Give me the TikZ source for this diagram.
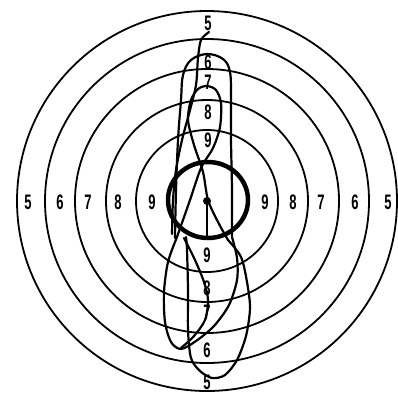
\documentclass[tikz,border=0pt]{standalone}
\usepackage{fontspec}
\setmainfont{Liberation Sans}
\usepackage{graphicx}

\begin{document}
\begin{tikzpicture}[x=1pt,y=-1pt,
  ring/.style={line width=1.8pt},
  trace/.style={line width=2.2pt,line join=round,line cap=round},
  num/.style={inner sep=0pt,font=\fontsize{21}{21}\bfseries}]
\useasboundingbox (0,0) rectangle (398,397);
\coordinate (c) at (207,201);
% rings
\foreach \r in {71,101,132,162,190} {
   \draw[ring] (c) circle (\r);
}
\draw[line width=4.5pt] (208,200) circle [x radius=40, y radius=38];
% ring numbers
\foreach \x/\1 in %
{28/5,60/6,88/7,118/8,152/9,265/9,293/8,321/7,355/6,388/5} {
   \node[num] (h\x) at (\x,202) {\scalebox{0.62}[1]{\1}};
}
\foreach \y/\1 in %
{23/5,62/6,82/7,112/8,140/9} {
   \node[num] (t\y) at (208,\y) {\scalebox{0.62}[1]{\1}};
}
\foreach \y/\1 in %
{255/9,288/8,312/7,350/6,382/5} {
   \node[num] (b\y) at (207,\y) {\scalebox{0.62}[1]{\1}};
}
% traces, upper part
\draw[trace] plot[smooth,tension=0.6] coordinates {(175,238) (176,190) (178,140)
   (181,100) (183,75) (191,60) (207,54) (223,59) (230,72) (231,100) (231,140)
   (232,190) (232,236)};
\draw[trace] plot[smooth] coordinates {(177,237) (190,200) (201,168) (213,148)
   (220,127) (221,103) (216,90) (207,86) (198,89) (191,100) (188,120) (194,145)
   (203,172) (208,200) (218,222) (228,240)};
\draw[trace] plot[smooth] coordinates {(209,32) (201,40) (198,58) (196,85)
   (190,110) (182,140) (176,170) (173,200) (172,234)};
% centre
\node[circle,fill,inner sep=0pt,minimum size=8pt] (ctr) at (c) {};
\coordinate (cb) at (207,237);
\draw[trace] (ctr.center) -- (cb);
% traces, lower part
\draw[trace] plot[smooth] coordinates {(177,237) (168,262) (164,292) (165,322)
   (171,342) (181,349) (196,341) (214,326) (229,305) (237,280) (237,258) (232,237)};
\draw[trace] plot[smooth] coordinates {(184,238) (195,260) (204,282) (208,300)
   (205,320) (194,336) (181,348)};
\draw[trace] plot[smooth] coordinates {(228,240) (241,257) (247,282) (250,308)
   (246,336) (237,360) (225,375) (212,378) (200,371) (191,358) (188,330) (188,290)
   (187,250) (186,237)};
\end{tikzpicture}
\end{document}
